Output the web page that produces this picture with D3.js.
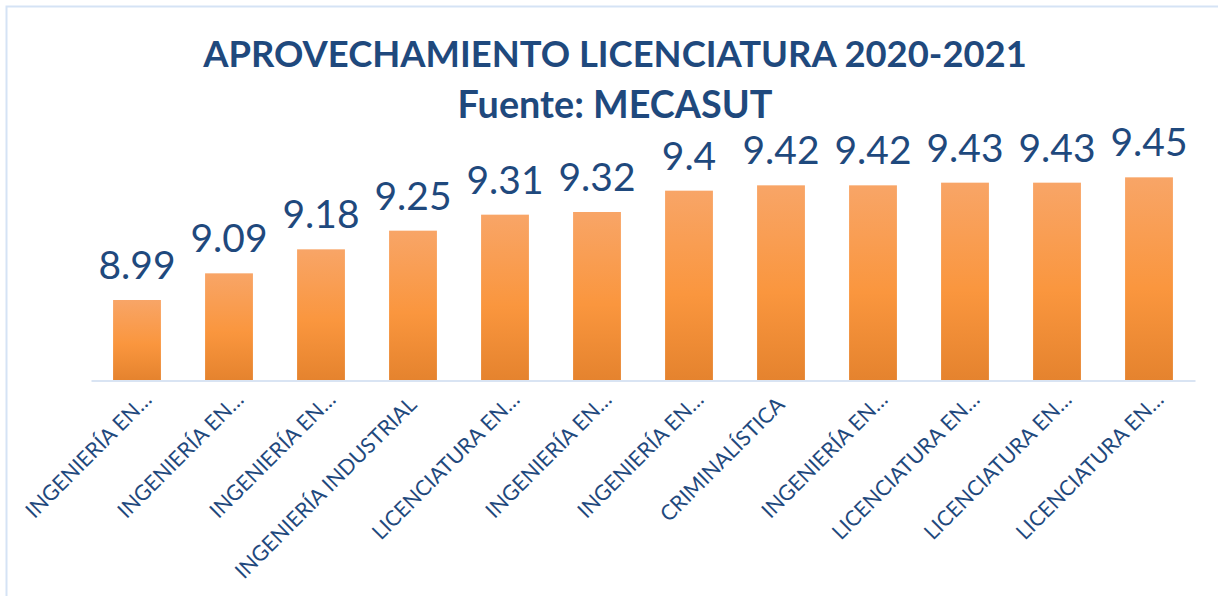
<!DOCTYPE html>
<html>
<head>
<meta charset="utf-8">
<script src="https://cdn.jsdelivr.net/npm/d3@7"></script>
<style>
  html, body { margin: 0; padding: 0; background: #fff; }
  svg { display: block; }
</style>
</head>
<body>
<svg id="chart" width="1218" height="596"></svg>
<script>
// data
var categories = [
    "INGENIERÍA EN…", "INGENIERÍA EN…", "INGENIERÍA EN…", "INGENIERÍA INDUSTRIAL",
    "LICENCIATURA EN…", "INGENIERÍA EN…", "INGENIERÍA EN…", "CRIMINALÍSTICA",
    "INGENIERÍA EN…", "LICENCIATURA EN…", "LICENCIATURA EN…", "LICENCIATURA EN…"
];
var values = [8.99, 9.09, 9.18, 9.25, 9.31, 9.32, 9.4, 9.42, 9.42, 9.43, 9.43, 9.45];
var yDomain = [8.69, 9.5];
var titleLines = ["APROVECHAMIENTO LICENCIATURA 2020-2021", "Fuente: MECASUT"];

var blue = "#1F497D";
var font = "Lato, 'Open Sans', sans-serif";

var svg = d3.select("#chart");

// size a font so a string takes a given width
function fitSize(str, weight, target){
    var t = svg.append("text")
        .attr("font-family", font)
        .attr("font-weight", weight)
        .attr("font-size", 100)
        .text(str);
    var w = t.node().getComputedTextLength();
    t.remove();
    return 100 * target / w;
}

// chart frame
svg.append("rect")
    .attr("x", 6.5).attr("y", 6.5)
    .attr("width", 1300).attr("height", 700)
    .attr("fill", "none")
    .attr("stroke", "#d5e3f5")
    .attr("stroke-width", 2);

var defs = svg.append("defs");
var grad = defs.append("linearGradient")
    .attr("id", "barGrad")
    .attr("x1", 0).attr("y1", 0).attr("x2", 0).attr("y2", 1);
grad.append("stop").attr("offset", "0%").attr("stop-color", "#f8a567");
grad.append("stop").attr("offset", "55%").attr("stop-color", "#fa963e");
grad.append("stop").attr("offset", "100%").attr("stop-color", "#e5832e");

var x = d3.scaleBand()
    .domain(d3.range(values.length))
    .range([91, 1195])
    .paddingInner(0.48)
    .paddingOuter(0.24);

var y = d3.scaleLinear()
    .domain(yDomain)
    .range([380, 164]);

// title
var t1 = fitSize(titleLines[0], "bold", 824);
var t2 = fitSize(titleLines[1], "bold", 315);
svg.append("text")
    .attr("x", 615).attr("y", 67)
    .attr("text-anchor", "middle")
    .attr("font-family", font).attr("font-weight", "bold")
    .attr("font-size", t1).attr("fill", blue)
    .text(titleLines[0]);
svg.append("text")
    .attr("x", 615).attr("y", 118)
    .attr("text-anchor", "middle")
    .attr("font-family", font).attr("font-weight", "bold")
    .attr("font-size", t2).attr("fill", blue)
    .text(titleLines[1]);

// bars
svg.selectAll("rect.bar")
    .data(values)
    .enter().append("rect")
    .attr("class", "bar")
    .attr("x", function(d, i){ return x(i); })
    .attr("y", function(d){ return y(d); })
    .attr("width", x.bandwidth())
    .attr("height", function(d){ return y(yDomain[0]) - y(d); })
    .attr("fill", "url(#barGrad)");

// axis line
var xAxis = d3.axisBottom(x).tickSize(0).tickFormat("");
var ax = svg.append("g")
    .attr("transform", "translate(0,380.5)")
    .call(xAxis);
ax.select(".domain").attr("stroke", "#d9e4f3").attr("stroke-width", 2);

// value labels
var vSize = fitSize("8.99", "normal", 77);
svg.selectAll("text.val")
    .data(values)
    .enter().append("text")
    .attr("class", "val")
    .attr("x", function(d, i){ return x(i) + x.bandwidth() / 2; })
    .attr("y", function(d){ return y(d) - 21; })
    .attr("text-anchor", "middle")
    .attr("font-family", font)
    .attr("font-size", vSize)
    .attr("fill", blue)
    .text(function(d){ return d; });

// category labels, rotated
var cSize = fitSize("INGENIERÍA INDUSTRIAL", "normal", 246);
svg.selectAll("text.cat")
    .data(categories)
    .enter().append("text")
    .attr("class", "cat")
    .attr("transform", function(d, i){
        var cut = d.slice(-1) === "…";
        var cx = x(i) + x.bandwidth() / 2 + (cut ? 16 : 5);
        var cy = cut ? 401 : 406;
        return "translate(" + cx + "," + cy + ") rotate(-45)";
    })
    .attr("text-anchor", "end")
    .attr("font-family", font)
    .attr("font-size", cSize)
    .attr("fill", blue)
    .text(function(d){ return d; });
</script>
</body>
</html>
